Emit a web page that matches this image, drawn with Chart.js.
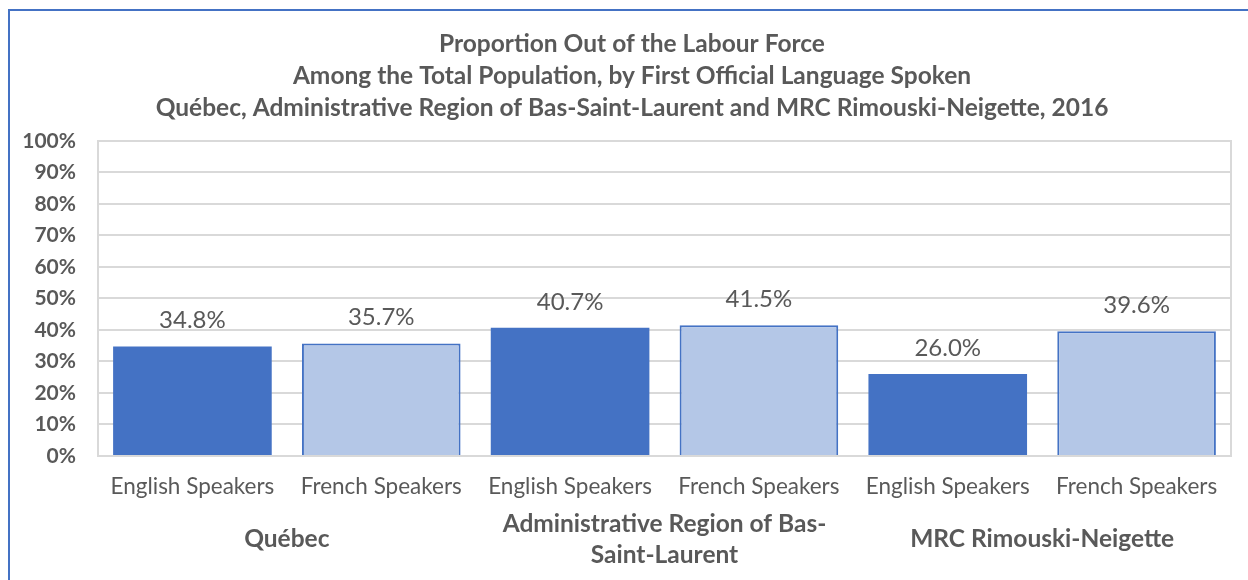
<!DOCTYPE html>
<html>
<head>
<meta charset="utf-8">
<script src="https://cdn.jsdelivr.net/npm/chart.js@4/dist/chart.umd.min.js"></script>
<style>
  html, body { margin: 0; padding: 0; background: #fff; overflow: hidden; width: 1248px; height: 580px; }
  #frame { position: absolute; left: 8px; top: 9px; width: 1260px; height: 600px; border-top: 2px solid #4472C4; border-left: 2px solid #4472C4; box-sizing: border-box; pointer-events: none; }
  #c { position: absolute; left: 0; top: 0; }
</style>
</head>
<body>
<canvas id="c" width="1264" height="580"></canvas>
<div id="frame"></div>
<script>
const titleLines = [
  'Proportion Out of the Labour Force',
  'Among the Total Population, by First Official Language Spoken',
  'Québec, Administrative Region of Bas-Saint-Laurent and MRC Rimouski-Neigette, 2016'
];
const categories = ['English Speakers', 'French Speakers', 'English Speakers', 'French Speakers', 'English Speakers', 'French Speakers'];
const groups = ['Québec', ['Administrative Region of Bas-', 'Saint-Laurent'], 'MRC Rimouski-Neigette'];
const values = [34.8, 35.7, 40.7, 41.5, 26.0, 39.6];
const yTicks = [0, 10, 20, 30, 40, 50, 60, 70, 80, 90, 100];

const TEXT = '#595959';
const GRID = '#D9D9D9';
const DARK = '#4472C4';
const LIGHT = '#B4C7E7';
const FONT = 'Lato, "Open Sans", sans-serif';

const fills = categories.map((c, i) => i % 2 === 0 ? DARK : LIGHT);
const borders = categories.map(() => DARK);
const bws = categories.map((c, i) => i % 2 === 0 ? 0 : 2);

const valueLabels = {
  id: 'valueLabels',
  afterDatasetsDraw(chart) {
    const ctx = chart.ctx;
    const meta = chart.getDatasetMeta(0);
    ctx.save();
    ctx.font = '24px ' + FONT;
    ctx.fillStyle = TEXT;
    ctx.textAlign = 'center';
    ctx.textBaseline = 'middle';
    meta.data.forEach((el, i) => {
      ctx.fillText(values[i].toFixed(1) + '%', el.x, el.y - 26);
    });
    ctx.restore();
  }
};

new Chart(document.getElementById('c'), {
  type: 'bar',
  data: {
    labels: categories,
    datasets: [{
      data: values,
      backgroundColor: fills,
      borderColor: borders,
      borderWidth: bws,
      barPercentage: 0.84,
      categoryPercentage: 1.0
    }]
  },
  options: {
    responsive: false,
    animation: false,
    events: [],
    layout: { padding: { top: 12, left: 0, right: 0, bottom: 0 } },
    plugins: {
      legend: { display: false },
      tooltip: { enabled: false },
      title: {
        display: true,
        text: titleLines,
        color: TEXT,
        font: { family: FONT, size: 24.5, weight: 'bold', lineHeight: 1.306 },
        padding: { top: 16, bottom: 17 }
      }
    },
    scales: {
      x: {
        position: 'bottom',
        grid: { display: false, drawTicks: false },
        border: { display: true, color: GRID, width: 2 },
        ticks: { color: TEXT, font: { family: FONT, size: 22.5, lineHeight: 1.2 }, padding: 17.5, maxRotation: 0, autoSkip: false },
        afterFit(s) { s.height = 52; }
      },
      x2: {
        type: 'category',
        position: 'bottom',
        labels: groups,
        offset: true,
        grid: { display: false, drawTicks: false },
        border: { display: false },
        ticks: { color: TEXT, font: { family: FONT, size: 24.5, weight: 'bold', lineHeight: 1.265 }, padding: 16, crossAlign: 'center', maxRotation: 0, autoSkip: false },
        afterFit(s) { s.height = 72; }
      },
      y: {
        min: 0,
        max: 100,
        afterBuildTicks(s) { s.ticks = yTicks.map(v => ({ value: v })); },
        grid: { color: GRID, lineWidth: 2, drawTicks: false },
        border: { display: true, color: GRID, width: 2 },
        ticks: { color: TEXT, font: { family: FONT, size: 21, weight: 'bold' }, padding: 22, callback: v => v + '%' },
        afterFit(s) { s.width = 98; }
      },
      yr: {
        position: 'right',
        min: 0,
        max: 100,
        grid: { display: false, drawTicks: false },
        border: { display: true, color: GRID, width: 2 },
        ticks: { display: false },
        afterFit(s) { s.width = 33; }
      }
    }
  },
  plugins: [valueLabels]
});
</script>
</body>
</html>
